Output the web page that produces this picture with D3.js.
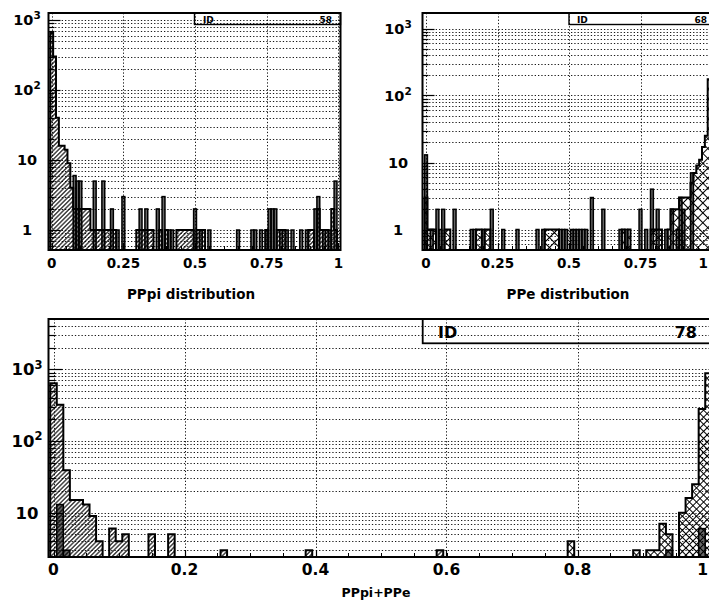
<!DOCTYPE html>
<html><head><meta charset="utf-8">
<script src="https://cdn.jsdelivr.net/npm/d3@7"></script>
<style>
body{margin:0;background:#fff}
svg{display:block}
text{font-family:"DejaVu Sans",sans-serif;font-weight:bold;fill:#000}
</style>
</head><body>
<svg id="c" width="709" height="613"></svg>
<script>
// ---------- DATA ----------
// histogram bins: 101 bins centred at 0.00, 0.01, ... 1.00 (width 0.01)
const binCenters = d3.range(101).map(i => i / 100);
const binWidth = 0.01;

// Panel 1 : PPpi distribution (ID 58)
const ppiHatched = [
 650,300,40,16,16,14,9,4,2,2,
 2,2,2,2,1,1,1,1,1,1,
 1,1,1,0,0,0,0,0,0,0,
 1,1,1,1,1,1,0,0,1,0,
 1,0,0,0,1,1,1,1,1,1,
 0,1,1,1,0,0,0,0,0,0,
 0,0,0,0,0,0,0,0,0,0,
 0,0,0,0,0,1,0,0,0,1,
 1,1,0,0,0,0,0,0,0,0,
 1,1,0,2,1,1,1,0,2,1,
 0];
const ppiDark = [
 0,0,0,0,0,0,0,0,6,5,
 5,0,0,0,0,5,0,0,5,0,
 0,2,0,1,0,3,0,0,0,0,
 0,2,0,2,0,0,0,2,0,3,
 0,1,1,0,0,0,0,0,0,0,
 2,0,1,0,0,1,0,0,0,0,
 0,0,0,0,0,1,0,0,0,0,
 1,1,0,1,0,1,2,2,2,0,
 1,0,1,0,1,0,0,1,0,1,
 0,0,2,3,0,1,0,1,0,5,
 0];

// Panel 2 : PPe distribution (ID 68)
const ppeCross = [
 3,1,1,1,0,0,0,1,1,0,
 0,0,0,0,0,0,0,0,1,1,
 0,1,1,0,0,0,0,0,0,0,
 0,0,0,0,0,0,0,0,0,0,
 0,0,1,1,1,1,1,0,0,0,
 0,0,0,0,0,0,0,0,0,0,
 0,0,0,0,0,0,0,0,0,1,
 0,1,0,0,0,0,0,0,0,1,
 1,1,1,0,0,1,2,2,2,3,
 3,3,3,5,7,9,11,17,25,175,
 880];
const ppeDark = [
 13,0,1,0,2,1,2,0,0,0,
 2,0,0,0,0,0,1,1,0,0,
 1,0,0,2,0,0,0,1,0,0,
 0,0,1,0,0,0,0,0,0,1,
 0,1,0,0,0,0,0,1,1,1,
 0,1,1,1,1,1,1,0,3,0,
 0,0,2,0,0,0,0,0,1,0,
 1,0,0,0,0,2,0,1,0,4,
 0,2,0,0,1,0,2,0,1,3,
 2,0,0,7,0,0,0,0,0,0,
 0];

// Panel 3 : PPpi+PPe (ID 78)
const sumHatched = [
 640,320,39,15,15,13,9,4,2,6,
 4,5,0,0,0,5,0,0,5,0,
 0,0,0,0,0,0,3,0,0,0,
 0,0,0,0,0,0,0,0,0,3,
 0,0,0,0,0,0,0,0,0,0,
 0,0,0,0,0,0,0,0,0,3,
 0,0,0,0,0,0,0,0,0,0,
 0,0,0,0,0,0,0,0,0,0,
 0,0,0,0,0,0,0,0,0,0,
 0,0,0,0,0,0,0,0,0,0,
 0];
const sumCross = [
 0,0,0,0,0,0,0,0,0,0,
 0,0,0,0,0,0,0,0,0,0,
 0,0,0,0,0,0,0,0,0,0,
 0,0,0,0,0,0,0,0,0,0,
 0,0,0,0,0,0,0,0,0,0,
 0,0,0,0,0,0,0,0,0,0,
 0,0,0,0,0,0,0,0,0,0,
 0,0,0,0,0,0,0,0,0,4,
 0,0,0,0,0,0,0,0,0,3,
 0,3,3,7,5,0,10,16,25,280,
 880];
const sumDark = [
 0,13,3,0,0,0,0,0,0,0,
 0,0,0,0,0,0,0,0,0,0,
 0,0,0,0,0,0,0,0,0,0,
 0,0,0,0,0,0,0,0,0,0,
 0,0,0,0,0,0,0,0,0,0,
 0,0,0,0,0,0,0,0,0,0,
 0,0,0,0,0,0,0,0,0,0,
 0,0,0,0,0,0,0,0,0,0,
 0,0,0,0,0,0,0,0,0,0,
 0,0,0,0,3,0,0,0,0,6,
 0];

const xTicksTop = [0, 0.25, 0.5, 0.75, 1];
const xTicksBottom = [0, 0.2, 0.4, 0.6, 0.8, 1];
const yTicksTop = [1, 10, 100, 1000];
const yTicksBottom = [10, 100, 1000];
const titles = ["PPpi distribution", "PPe distribution", "PPpi+PPe"];
const idNumbers = ["58", "68", "78"];

// ---------- DRAWING ----------
const W = 709;
const svg = d3.select("#c");
svg.append("rect").attr("width", 709).attr("height", 613).attr("fill", "#fff");
const defs = svg.append("defs");

function makePattern(id, size, sw, cross) {
  const p = defs.append("pattern").attr("id", id).attr("patternUnits", "userSpaceOnUse")
    .attr("width", size).attr("height", size).attr("patternTransform", "rotate(45)");
  p.append("line").attr("x1", size / 2).attr("x2", size / 2).attr("y1", 0).attr("y2", size)
    .attr("stroke", "#000").attr("stroke-width", sw);
  if (cross) p.append("line").attr("y1", size / 2).attr("y2", size / 2).attr("x1", 0).attr("x2", size)
    .attr("stroke", "#000").attr("stroke-width", sw);
}
makePattern("hatch", 3.1, 1.1, false);
makePattern("dense", 2, 1.2, false);
makePattern("cross2", 7, 1.05, true);
makePattern("cross3", 5, 1.05, true);

const panels = [
  { key: "p1", L: 48.5, R: 340.5, T: 13, B: 250, x0: 51.7, x1: 338.4,
    yA: [1, 230], yB: [1000, 20], xTicks: xTicksTop, yTicks: yTicksTop,
    labelX: 27, ytFont: 14.5, supFont: 10.5, xtFont: 13.5, xtY: 268,
    title: titles[0], titleX: 191, titleY: 299, titleFont: 13.5,
    box: { L: 194.5, B: 24.5, font: 9, idX: 203, numX: 332, y: 22.5, num: idNumbers[0], sw: 1.4 },
    tickMaj: 12, tickMin: 6,
    series: [{ vals: ppiHatched, kind: "step", fill: "url(#hatch)" },
             { vals: ppiDark, kind: "bar" }] },
  { key: "p2", L: 422.5, R: 715, T: 13, B: 250, x0: 426, x1: 712,
    yA: [1, 229.5], yB: [1000, 28.5], xTicks: xTicksTop, yTicks: yTicksTop,
    labelX: 398, ytFont: 14.5, supFont: 10.5, xtFont: 13.5, xtY: 268,
    title: titles[1], titleX: 568, titleY: 299, titleFont: 13.5,
    box: { L: 569, B: 24.5, font: 9, idX: 577, numX: 707, y: 22.5, num: idNumbers[1], sw: 1.4 },
    tickMaj: 12, tickMin: 6,
    series: [{ vals: ppeCross, kind: "step", fill: "url(#cross2)" },
             { vals: ppeDark, kind: "bar" }] },
  { key: "p3", L: 48.5, R: 714, T: 319, B: 557, x0: 53.5, x1: 708.5,
    yA: [10, 512.7], yB: [1000, 369.3], xTicks: xTicksBottom, yTicks: yTicksBottom,
    labelX: 27, ytFont: 16.5, supFont: 11.5, xtFont: 15.5, xtY: 575,
    title: titles[2], titleX: 376, titleY: 597, titleFont: 12.5,
    box: { L: 422.7, B: 343.3, font: 16, idX: 438, numX: 697, y: 338.3, num: idNumbers[2], sw: 1.8 },
    tickMaj: 14, tickMin: 7,
    series: [{ vals: sumHatched, kind: "step", fill: "url(#hatch)" },
             { vals: sumCross, kind: "step", fill: "url(#cross3)" },
             { vals: sumDark, kind: "bar" }] }
];

function stepPath(vals, x, y, B) {
  let d = "", open = false, lastX = 0;
  vals.forEach((v, i) => {
    const xa = x(binCenters[i] - binWidth / 2), xb = x(binCenters[i] + binWidth / 2);
    const yy = v > 0 ? Math.min(B, y(v)) : B;
    if (yy < B) {
      if (!open) { d += `M${xa},${B}`; open = true; }
      d += `L${xa},${yy}L${xb},${yy}`;
      lastX = xb;
    } else if (open) { d += `L${lastX},${B}Z`; open = false; }
  });
  if (open) d += `L${lastX},${B}Z`;
  return d;
}

function supLabel(sel, v, p) {
  const e = Math.round(Math.log10(v));
  if (e <= 1) { sel.append("tspan").text(String(v)); return; }
  sel.append("tspan").text("10");
  sel.append("tspan").attr("font-size", p.supFont).attr("dy", -0.4 * p.ytFont).text(String(e));
}

panels.forEach(p => {
  const { L, R, T, B } = p;
  const g = svg.append("g");
  const x = d3.scaleLinear().domain([0, 1]).range([p.x0, p.x1]);
  const y = d3.scaleLog().domain([p.yA[0], p.yB[0]]).range([p.yA[1], p.yB[1]]);
  const clipId = "clip-" + p.key;
  defs.append("clipPath").attr("id", clipId).append("rect")
    .attr("x", L).attr("y", T).attr("width", R - L).attr("height", B - T);
  const inner = g.append("g").attr("clip-path", `url(#${clipId})`);

  // horizontal log grid (1..9 x 10^k)
  const vMin = y.invert(B), vMax = y.invert(T);
  const gridVals = [];
  for (let d = Math.floor(Math.log10(vMin)); d <= Math.ceil(Math.log10(vMax)); d++)
    for (let m = 1; m <= 9; m++) {
      const v = m * Math.pow(10, d);
      if (y(v) > T + 1.5 && y(v) < B - 1.5) gridVals.push({ v, major: m === 1 });
    }
  inner.selectAll("line.hg").data(gridVals).join("line").attr("class", "hg")
    .attr("x1", L).attr("x2", R)
    .attr("y1", d => Math.round(y(d.v)) + 0.5).attr("y2", d => Math.round(y(d.v)) + 0.5)
    .attr("stroke", "#000").attr("stroke-width", 0.9).attr("stroke-dasharray", "1.3,2");
  inner.selectAll("line.vg").data(p.xTicks).join("line").attr("class", "vg")
    .attr("x1", d => Math.round(x(d)) + 0.5).attr("x2", d => Math.round(x(d)) + 0.5)
    .attr("y1", T).attr("y2", B)
    .attr("stroke", "#000").attr("stroke-width", 0.9).attr("stroke-dasharray", "1.3,2");

  // histograms
  p.series.forEach(s => {
    if (s.kind === "step") {
      inner.append("path").attr("d", stepPath(s.vals, x, y, B))
        .attr("fill", s.fill).attr("stroke", "#000").attr("stroke-width", 2)
        .attr("stroke-linejoin", "miter");
    } else {
      const bars = s.vals.map((v, i) => ({ v, c: binCenters[i] })).filter(d => d.v > 0 && y(d.v) < B);
      inner.selectAll(null).data(bars).join("rect")
        .attr("x", d => x(d.c - binWidth / 2))
        .attr("width", d => x(d.c + binWidth / 2) - x(d.c - binWidth / 2))
        .attr("y", d => y(d.v)).attr("height", d => B - y(d.v))
        .attr("fill", "url(#dense)").attr("stroke", "#000").attr("stroke-width", 1.5);
    }
  });

  // ID box
  const bx = p.box;
  g.append("rect").attr("x", bx.L).attr("y", T).attr("width", R - bx.L).attr("height", bx.B - T)
    .attr("fill", "none").attr("stroke", "#000").attr("stroke-width", bx.sw);
  g.append("text").attr("x", bx.idX).attr("y", bx.y).attr("font-size", bx.font).text("ID");
  g.append("text").attr("x", bx.numX).attr("y", bx.y).attr("font-size", bx.font)
    .attr("text-anchor", "end").text(bx.num);

  // y ticks (inside, on left axis)
  g.selectAll("line.yt").data(gridVals).join("line").attr("class", "yt")
    .attr("x1", L).attr("x2", d => L + (d.major ? p.tickMaj : p.tickMin))
    .attr("y1", d => Math.round(y(d.v)) + 0.5).attr("y2", d => Math.round(y(d.v)) + 0.5)
    .attr("stroke", "#000").attr("stroke-width", 1.2);
  // x ticks
  const minor = d3.range(0, 21).map(k => k * 0.05);
  g.selectAll("line.xt").data(minor).join("line").attr("class", "xt")
    .attr("x1", d => Math.round(x(d)) + 0.5).attr("x2", d => Math.round(x(d)) + 0.5)
    .attr("y1", B).attr("y2", B - 4).attr("stroke", "#000").attr("stroke-width", 1);
  g.selectAll("line.xM").data(p.xTicks).join("line").attr("class", "xM")
    .attr("x1", d => Math.round(x(d)) + 0.5).attr("x2", d => Math.round(x(d)) + 0.5)
    .attr("y1", B).attr("y2", B - 7).attr("stroke", "#000").attr("stroke-width", 1.2);

  // frame
  g.append("rect").attr("x", L).attr("y", T).attr("width", R - L).attr("height", B - T)
    .attr("fill", "none").attr("stroke", "#000").attr("stroke-width", 2);

  // x labels (kept inside the window at the right edge)
  g.selectAll("text.xl").data(p.xTicks).join("text").attr("class", "xl")
    .attr("y", p.xtY).attr("font-size", p.xtFont).text(d => String(d))
    .each(function (d) {
      const t = d3.select(this);
      const w = this.getComputedTextLength();
      const cx = Math.min(x(d), W - 1 - w / 2);
      t.attr("x", cx).attr("text-anchor", "middle");
    });
  // y labels
  p.yTicks.forEach(v => {
    const t = g.append("text").attr("x", p.labelX).attr("y", y(v) + 0.36 * p.ytFont)
      .attr("font-size", p.ytFont).attr("text-anchor", "middle");
    supLabel(t, v, p);
  });
  // title
  g.append("text").attr("x", p.titleX).attr("y", p.titleY).attr("font-size", p.titleFont)
    .attr("text-anchor", "middle").text(p.title);
});
</script>
</body></html>
